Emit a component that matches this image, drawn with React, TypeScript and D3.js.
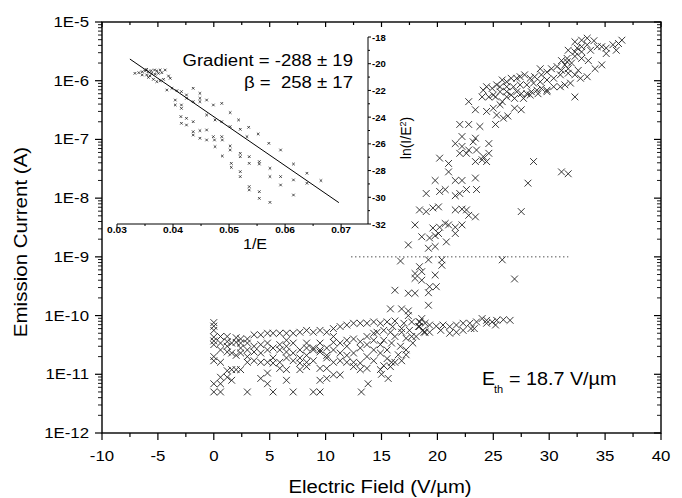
import React from 'react';
import * as d3 from 'd3';

const FONT = 'Arial, "Liberation Sans", Helvetica, sans-serif';

// axis ticks and labels
const xTickValues = [-10, -5, 0, 5, 10, 15, 20, 25, 30, 35, 40];
const yDecades = [1e-12, 1e-11, 1e-10, 1e-9, 1e-8, 1e-7, 1e-6, 1e-5];
const yTickLabels = ['1E-12', '1E-11', '1E-10', '1E-9', '1E-8', '1E-7', '1E-6', '1E-5'];
const insetXTicks = [0.03, 0.04, 0.05, 0.06, 0.07];
const insetXTickLabels = ['0.03', '0.04', '0.05', '0.06', '0.07'];
const insetYTicks = [-18, -20, -22, -24, -26, -28, -30, -32];

// threshold marker (dotted line at 1 nA)
const thresholdStart = 12.3;
const thresholdEnd = 31.7;
const thresholdCurrent = 1e-9;

// [field V/um, current A] -- low field noise floor
const lowField: [number, number][] = [
  [0, 7.6e-11], [0, 6.6e-11], [0, 5.6e-11], [0, 4.3e-11], [0, 3.7e-11], [0, 3.2e-11], [0, 2.0e-11], [0, 1.7e-11], [0, 6.9e-12], [0, 5.0e-12],
  [0.6, 4.4e-11], [0.6, 3.4e-11], [0.6, 2.6e-11], [0.6, 1.6e-11], [0.6, 8.9e-12], [0.6, 6.9e-12], [0.6, 5.0e-12],
  [1.2, 4.4e-11], [1.2, 3.6e-11], [1.2, 3.0e-11], [1.2, 2.4e-11], [1.2, 1.15e-11], [1.2, 8.9e-12],
  [1.6, 3.4e-11], [1.6, 2.3e-11], [1.6, 1.2e-11], [1.6, 7.9e-12],
  [2.0, 4.2e-11], [2.0, 3.5e-11], [2.0, 2.1e-11], [2.0, 1.2e-11],
  [2.4, 4.0e-11], [2.4, 3.4e-11], [2.4, 2.8e-11], [2.4, 2.3e-11], [2.4, 1.2e-11],
  [3.0, 4.0e-11], [3.0, 3.4e-11], [3.0, 2.6e-11], [3.0, 2.0e-11], [3.0, 1.6e-11], [3.0, 5.0e-12],
  [3.6, 4.7e-11], [3.6, 3.0e-11], [3.6, 2.4e-11], [3.6, 1.7e-11],
  [4.2, 4.7e-11], [4.2, 3.2e-11], [4.2, 2.3e-11], [4.2, 1.6e-11], [4.2, 8.5e-12],
  [4.8, 5.0e-11], [4.8, 3.4e-11], [4.8, 2.6e-11], [4.8, 1.6e-11], [4.8, 1.05e-11], [4.8, 6.9e-12],
  [5.3, 5.0e-11], [5.3, 2.8e-11], [5.3, 1.9e-11], [5.3, 1.55e-11], [5.3, 5.0e-12],
  [5.9, 5.0e-11], [5.9, 3.2e-11], [5.9, 2.6e-11], [5.9, 1.6e-11], [5.9, 1.26e-11],
  [6.5, 5.0e-11], [6.5, 3.8e-11], [6.5, 3.0e-11], [6.5, 2.4e-11], [6.5, 1.9e-11], [6.5, 1.2e-11], [6.5, 7.9e-12],
  [7.1, 5.0e-11], [7.1, 3.4e-11], [7.1, 2.3e-11], [7.1, 1.7e-11], [7.1, 5.0e-12],
  [7.7, 5.2e-11], [7.7, 2.6e-11], [7.7, 1.9e-11], [7.7, 1.55e-11], [7.7, 1.2e-11],
  [8.3, 5.6e-11], [8.3, 3.4e-11], [8.3, 2.8e-11], [8.3, 2.1e-11], [8.3, 1.6e-11], [8.3, 1.35e-11],
  [8.9, 5.2e-11], [8.9, 2.8e-11], [8.9, 2.6e-11], [8.9, 1.7e-11], [8.9, 5.0e-12],
  [9.5, 5.6e-11], [9.5, 3.4e-11], [9.5, 2.6e-11], [9.5, 2.4e-11], [9.5, 1.26e-11], [9.5, 7.9e-12], [9.5, 5.0e-12],
  [10.1, 5.2e-11], [10.1, 2.8e-11], [10.1, 2.1e-11], [10.1, 1.9e-11], [10.1, 1.26e-11], [10.1, 8.5e-12],
  [10.7, 6.0e-11], [10.7, 4.4e-11], [10.7, 3.5e-11], [10.7, 2.6e-11], [10.7, 1.6e-11], [10.7, 9.8e-12],
  [11.3, 6.5e-11], [11.3, 3.4e-11], [11.3, 2.3e-11], [11.3, 1.7e-11], [11.3, 9.8e-12],
  [11.9, 6.9e-11], [11.9, 3.8e-11], [11.9, 3.0e-11], [11.9, 2.1e-11], [11.9, 1.6e-11],
];

// upper flat band that continues to ~26 V/um
const flatBand: [number, number][] = [
  [12.5, 7.4e-11], [13.1, 7.4e-11], [13.7, 7.4e-11], [14.3, 7.8e-11], [14.9, 7.4e-11], [15.5, 7.8e-11],
  [16.2, 8.1e-11], [17.0, 7.4e-11], [17.7, 7.8e-11], [18.4, 7.8e-11], [18.9, 7.4e-11], [19.3, 6.9e-11],
  [19.9, 6.6e-11], [20.5, 6.9e-11], [21.1, 6.5e-11], [21.7, 6.9e-11], [22.3, 7.4e-11], [22.9, 7.4e-11],
  [23.5, 7.8e-11], [24.0, 8.9e-11], [24.4, 8.3e-11], [24.9, 7.8e-11], [25.3, 8.3e-11], [25.9, 8.5e-11], [26.5, 8.3e-11],
  [14.3, 5.0e-11], [15.2, 5.6e-11], [16.0, 6.5e-11], [16.8, 6.0e-11], [17.5, 5.6e-11], [18.3, 6.5e-11],
  [18.8, 5.2e-11], [19.3, 5.2e-11], [20.3, 5.6e-11], [21.1, 5.0e-11], [21.7, 5.2e-11], [22.3, 5.6e-11],
  [23.0, 6.0e-11], [23.3, 6.0e-11], [24.4, 7.4e-11], [25.2, 6.9e-11],
];

// mid field scatter before turn-on
const midField: [number, number][] = [
  [12.5, 4.0e-11], [13.1, 3.6e-11], [13.7, 4.4e-11], [14.3, 3.8e-11], [14.9, 3.2e-11],
  [12.5, 2.3e-11], [13.1, 2.8e-11], [13.7, 3.2e-11], [14.3, 2.6e-11], [12.5, 1.6e-11], [13.1, 1.55e-11],
  [13.7, 2.0e-11], [12.5, 1.35e-11], [13.1, 1.2e-11], [13.7, 1.26e-11], [14.3, 1.7e-11], [14.9, 2.3e-11],
  [15.5, 2.6e-11], [15.9, 3.4e-11], [16.2, 4.4e-11], [15.2, 3.8e-11], [14.6, 5.2e-11], [15.8, 5.2e-11],
  [16.8, 5.2e-11], [17.2, 4.1e-11], [16.7, 3.0e-11], [17.2, 2.6e-11], [17.8, 3.4e-11], [17.7, 4.4e-11],
  [15.5, 1.85e-11], [15.9, 1.6e-11], [16.5, 2.15e-11], [16.8, 1.7e-11], [17.2, 2.15e-11], [15.2, 1.4e-11],
  [15.8, 1.35e-11], [16.2, 1.6e-11], [14.9, 1.2e-11], [15.0, 1.0e-11], [15.6, 8.5e-12], [13.8, 6.9e-12],
  [13.2, 5.0e-12], [18.4, 6.5e-11], [18.9, 5.2e-11], [18.1, 4.4e-11], [18.7, 5.6e-11],
];

// turn-on branch
const riseBranch: [number, number][] = [
  [20.2, 4.8e-8], [21.0, 3.9e-8], [21.0, 2.8e-8], [19.8, 2.0e-8], [21.6, 2.0e-8], [22.2, 2.0e-8], [23.4, 2.2e-8],
  [19.0, 1.2e-8], [20.2, 1.3e-8], [20.7, 1.4e-8], [21.6, 1.1e-8], [22.0, 1.2e-8], [22.6, 1.4e-8], [23.5, 1.4e-8],
  [18.4, 6.3e-9], [19.0, 5.9e-9], [19.6, 6.8e-9], [20.1, 7.1e-9], [21.6, 6.3e-9], [22.2, 6.5e-9], [22.6, 6.3e-9],
  [22.8, 5.1e-9], [23.4, 4.8e-9], [18.0, 3.5e-9], [19.6, 3.1e-9], [20.2, 3.2e-9], [20.7, 3.7e-9], [21.0, 3.5e-9],
  [21.6, 3.2e-9], [22.2, 3.5e-9], [21.6, 2.5e-9], [18.6, 2.2e-9], [19.3, 2.1e-9], [19.8, 2.3e-9], [20.1, 2.5e-9],
  [20.8, 1.8e-9], [17.4, 1.6e-9], [19.2, 1.4e-9], [19.8, 1.5e-9], [16.7, 8.5e-10], [19.2, 8.9e-10], [20.4, 8.9e-10],
  [20.4, 7.2e-10], [18.4, 6.8e-10], [18.6, 5.6e-10], [18.0, 5.2e-10], [18.0, 4.3e-10], [18.6, 4.0e-10], [19.8, 4.9e-10],
  [19.9, 3.1e-10], [16.2, 2.7e-10], [17.4, 2.4e-10], [18.0, 2.4e-10], [19.2, 2.45e-10], [19.3, 3.1e-10],
  [15.8, 1.3e-10], [16.8, 1.3e-10], [19.2, 1.5e-10], [17.4, 1.2e-10], [17.4, 1.0e-10], [18.4, 7.8e-11], [18.6, 8.9e-11],
];

// high field saturation band
const highBand: [number, number][] = [
  [32.3, 4.6e-6], [32.9, 4.9e-6], [33.4, 5.3e-6], [34.0, 4.8e-6], [33.4, 4.1e-6], [32.9, 3.8e-6], [32.5, 3.6e-6],
  [31.7, 3.3e-6], [32.3, 3.1e-6], [32.9, 3.1e-6], [33.7, 3.3e-6], [34.3, 3.8e-6], [34.7, 3.8e-6], [35.1, 3.6e-6],
  [35.7, 4.1e-6], [36.2, 4.3e-6], [36.5, 4.9e-6], [36.0, 3.3e-6], [35.1, 2.9e-6], [34.7, 1.86e-6], [34.1, 1.6e-6],
  [33.5, 2.2e-6], [32.9, 2.4e-6], [32.3, 2.6e-6], [31.6, 2.4e-6], [31.1, 2.2e-6], [31.4, 1.86e-6], [30.7, 1.74e-6],
  [30.2, 1.6e-6], [29.8, 1.4e-6], [29.3, 1.26e-6], [29.2, 1.6e-6], [28.7, 1.17e-6], [28.3, 1.1e-6], [27.8, 1.26e-6],
  [27.4, 1.17e-6], [27.1, 1.1e-6], [26.6, 1.1e-6], [26.2, 9.6e-7], [25.8, 1.03e-6], [25.3, 8.5e-7], [24.9, 7.4e-7],
  [24.4, 7.9e-7], [24.1, 6.9e-7], [24.6, 5.3e-7], [25.0, 5.7e-7], [25.6, 6.5e-7], [26.2, 6.5e-7], [26.6, 5.7e-7],
  [27.1, 6.5e-7], [27.5, 6.0e-7], [28.0, 6.0e-7], [28.4, 6.5e-7], [28.9, 6.9e-7], [29.3, 7.4e-7], [29.8, 6.9e-7],
  [30.4, 7.9e-7], [31.0, 7.9e-7], [31.4, 8.5e-7], [31.9, 9.1e-7], [32.3, 1.26e-6], [31.7, 1.34e-6], [31.0, 1.26e-6],
  [30.4, 1.1e-6], [29.8, 1.03e-6], [29.2, 9.6e-7], [28.6, 9.1e-7], [28.0, 8.5e-7], [27.4, 8.5e-7], [26.8, 7.9e-7],
  [26.2, 7.9e-7], [25.6, 7.9e-7], [25.2, 5.3e-7], [26.2, 5.3e-7], [26.9, 5.0e-7], [27.7, 5.0e-7], [28.3, 5.7e-7],
  [29.0, 6.0e-7], [29.8, 6.5e-7], [32.6, 1.5e-6], [33.4, 1.17e-6], [32.8, 1.1e-6], [32.3, 5.3e-7], [31.7, 1.6e-6],
  [31.1, 1.5e-6], [32.0, 2.0e-6], [31.6, 2.1e-6],
  [22.8, 4.4e-7], [24.0, 5.3e-7], [23.4, 3.2e-7], [24.4, 3.0e-7], [25.0, 3.4e-7], [25.6, 3.9e-7], [25.8, 4.4e-7],
  [25.3, 2.6e-7], [25.9, 2.3e-7], [26.3, 2.5e-7], [26.9, 3.4e-7], [27.5, 3.2e-7], [22.0, 1.8e-7], [22.8, 1.8e-7],
  [23.8, 1.66e-7], [25.2, 1.8e-7], [22.2, 1.12e-7], [23.4, 1.05e-7], [23.2, 9.1e-8], [24.6, 8.5e-8], [21.6, 8.5e-8],
  [22.2, 7.6e-8], [22.8, 6.6e-8], [23.5, 6.6e-8], [22.0, 5.8e-8], [22.6, 5.8e-8], [24.6, 5.8e-8], [24.1, 5.1e-8],
  [23.4, 4.2e-8], [24.0, 4.5e-8], [24.4, 4.2e-8], [28.6, 4.2e-8],
];

// isolated points
const strays: [number, number][] = [
  [28.1, 1.8e-8], [27.5, 5.9e-9], [31.1, 2.8e-8], [31.7, 2.6e-8], [25.8, 8.9e-10], [26.9, 4.2e-10],
];

// inset: [1/E, ln(I/E^2)]
const insetPoints: [number, number][] = [
  [0.0332, -20.72], [0.0339, -20.67], [0.0345, -20.60], [0.0350, -20.52], [0.0353, -20.42], [0.0356, -20.60],
  [0.0361, -20.52], [0.0367, -20.47], [0.0371, -20.54], [0.0377, -20.47], [0.0386, -20.47], [0.0345, -20.84],
  [0.0353, -20.84], [0.0359, -20.92], [0.0362, -20.72], [0.0368, -20.79], [0.0374, -20.72], [0.0380, -20.67],
  [0.0356, -21.02], [0.0365, -21.17], [0.0371, -21.34], [0.0377, -21.27], [0.0383, -21.17], [0.0392, -20.92], [0.0395, -21.09],
  [0.0389, -21.97], [0.0398, -21.84], [0.0407, -22.02], [0.0415, -22.09], [0.0424, -22.34], [0.0436, -21.84],
  [0.0448, -22.22], [0.0448, -22.59], [0.0460, -22.72], [0.0472, -23.09], [0.0487, -22.97], [0.0502, -23.66],
  [0.0517, -24.21], [0.0535, -24.76], [0.0552, -25.26], [0.0571, -25.96], [0.0592, -26.46], [0.0615, -27.51],
  [0.0639, -28.20], [0.0664, -28.75],
  [0.0404, -22.72], [0.0404, -23.09], [0.0415, -23.09], [0.0415, -23.34], [0.0424, -22.59], [0.0436, -22.84],
  [0.0448, -22.84], [0.0460, -23.84], [0.0475, -24.21], [0.0487, -24.34], [0.0502, -24.71], [0.0520, -24.91], [0.0532, -25.46],
  [0.0414, -23.96], [0.0415, -24.46], [0.0424, -24.09], [0.0424, -24.59], [0.0436, -24.34], [0.0436, -25.09],
  [0.0436, -25.34], [0.0448, -25.01], [0.0448, -25.58], [0.0460, -24.96], [0.0460, -25.71], [0.0472, -25.46],
  [0.0474, -25.71], [0.0475, -26.21], [0.0487, -25.46], [0.0488, -25.71], [0.0488, -26.91], [0.0502, -26.16],
  [0.0502, -26.46], [0.0504, -27.46], [0.0504, -27.76], [0.0520, -26.71], [0.0520, -26.96], [0.0520, -28.08],
  [0.0520, -28.45], [0.0536, -26.96], [0.0536, -27.46], [0.0554, -27.33], [0.0554, -27.51], [0.0573, -27.83],
  [0.0573, -28.45], [0.0592, -28.45], [0.0592, -29.08], [0.0615, -28.70], [0.0615, -29.83], [0.0639, -28.95],
  [0.0536, -29.20], [0.0536, -29.45], [0.0554, -29.58], [0.0554, -30.08], [0.0573, -30.38],
];

// linear fit endpoints in the inset
const fitX = [0.0323, 0.0696];
const fitY = [-19.65, -30.4];

const cross = (cx: number, cy: number, s: number) =>
  `M${cx - s},${cy - s}L${cx + s},${cy + s}M${cx - s},${cy + s}L${cx + s},${cy - s}`;

const Txt = ({ x, y, size, anchor = 'start', sx = 1, weight = 'normal', rotate = 0, children }: any) => (
  <text
    transform={`translate(${x},${y}) rotate(${rotate}) scale(${sx},1)`}
    fontSize={size}
    fontFamily={FONT}
    fontWeight={weight}
    textAnchor={anchor}
    fill="#000"
  >
    {children}
  </text>
);

export default function App() {
  const x = d3.scaleLinear().domain([-10, 40]).range([102, 661]);
  const y = d3.scaleLog().domain([1e-12, 1e-5]).range([433, 22]);
  const ix = d3.scaleLinear().domain([0.03, 0.0748]).range([117, 368]);
  const iy = d3.scaleLinear().domain([-32, -18]).range([224, 37]);

  const [x0, x1] = x.range();
  const [yb, yt] = y.range();

  const xMinor = d3.range(-7.5, 40, 5);
  const yMinor: number[] = [];
  yDecades.slice(0, -1).forEach((d) => {
    for (let k = 2; k <= 9; k++) yMinor.push(d * k);
  });

  const allMain = [...lowField, ...flatBand, ...midField, ...riseBranch, ...highBand, ...strays];
  const mainPath = allMain.map(([e, i]) => cross(x(e), y(i), 3.4)).join('');
  const insetPath = insetPoints.map(([a, b]) => cross(ix(a), iy(b), 1.3)).join('');

  const ixMinor = [0.035, 0.045, 0.055, 0.065];
  const iyMinor = d3.range(-19, -31.5, -2);

  return (
    <svg width={682} height={498} style={{ position: 'absolute', left: 0, top: 0, background: '#fff' }}>
      <rect width={682} height={498} fill="#fff" />

      {/* main ticks */}
      <g stroke="#000" strokeWidth={1.2}>
        {xTickValues.map((v) => (
          <g key={'xt' + v}>
            <line x1={x(v)} x2={x(v)} y1={yb} y2={yb + 7} />
            <line x1={x(v)} x2={x(v)} y1={yt} y2={yt + 5} />
          </g>
        ))}
        {xMinor.map((v) => (
          <g key={'xm' + v}>
            <line x1={x(v)} x2={x(v)} y1={yb} y2={yb + 4} />
            <line x1={x(v)} x2={x(v)} y1={yt} y2={yt + 3} />
          </g>
        ))}
        {yDecades.map((v) => (
          <g key={'yt' + v}>
            <line x1={x0 - 7} x2={x0} y1={y(v)} y2={y(v)} />
            <line x1={x1 - 7} x2={x1} y1={y(v)} y2={y(v)} />
          </g>
        ))}
      </g>
      <g stroke="#000" strokeWidth={0.9}>
        {yMinor.map((v, i) => (
          <g key={'ym' + i}>
            <line x1={x0 - 4} x2={x0} y1={y(v)} y2={y(v)} />
            <line x1={x1 - 4} x2={x1} y1={y(v)} y2={y(v)} />
          </g>
        ))}
      </g>
      <rect x={x0} y={yt} width={x1 - x0} height={yb - yt} fill="none" stroke="#000" strokeWidth={1.4} />

      {/* tick labels */}
      {xTickValues.map((v) => (
        <Txt key={'xl' + v} x={x(v)} y={461} size={14} anchor="middle" sx={1.2}>
          {String(v)}
        </Txt>
      ))}
      {yDecades.map((v, i) => (
        <Txt key={'yl' + v} x={89} y={y(v) + 5} size={14} anchor="end" sx={1.2}>
          {yTickLabels[i]}
        </Txt>
      ))}

      {/* axis titles */}
      <Txt x={380} y={493} size={19} anchor="middle" sx={1.07}>
        Electric Field (V/µm)
      </Txt>
      <Txt x={27} y={242} size={19} anchor="middle" sx={1.08} rotate={-90}>
        Emission Current (A)
      </Txt>

      {/* threshold dotted line */}
      <line
        x1={x(thresholdStart)}
        x2={x(thresholdEnd)}
        y1={y(thresholdCurrent)}
        y2={y(thresholdCurrent)}
        stroke="#000"
        strokeWidth={1}
        strokeDasharray="1,3"
      />

      {/* main scatter */}
      <path d={mainPath} fill="none" stroke="#222" strokeWidth={0.9} />

      {/* threshold annotation */}
      <Txt x={482} y={385} size={19} sx={1.03}>E</Txt>
      <Txt x={494} y={393} size={11}>th</Txt>
      <Txt x={509} y={385} size={19} sx={1.04}>= 18.7 V/µm</Txt>

      {/* inset */}
      <g stroke="#000" strokeWidth={1}>
        <line x1={ix.range()[0]} x2={ix.range()[1]} y1={iy(-32)} y2={iy(-32)} />
        <line x1={ix.range()[1]} x2={ix.range()[1]} y1={iy(-18)} y2={iy(-32)} />
        {insetXTicks.map((v) => (
          <line key={'ixt' + v} x1={ix(v)} x2={ix(v)} y1={iy(-32)} y2={iy(-32) + 4} />
        ))}
        {ixMinor.map((v) => (
          <line key={'ixm' + v} x1={ix(v)} x2={ix(v)} y1={iy(-32)} y2={iy(-32) + 2} />
        ))}
        {insetYTicks.map((v) => (
          <line key={'iyt' + v} x1={ix.range()[1]} x2={ix.range()[1] + 3} y1={iy(v)} y2={iy(v)} />
        ))}
        {iyMinor.map((v) => (
          <line key={'iym' + v} x1={ix.range()[1]} x2={ix.range()[1] + 2} y1={iy(v)} y2={iy(v)} />
        ))}
      </g>
      {insetXTicks.map((v, i) => (
        <Txt key={'ixl' + v} x={ix(v)} y={233} size={8.5} anchor="middle" weight="bold" sx={1.2}>
          {insetXTickLabels[i]}
        </Txt>
      ))}
      {insetYTicks.map((v) => (
        <Txt key={'iyl' + v} x={372} y={iy(v) + 3.5} size={9.5} weight="bold">
          {String(v)}
        </Txt>
      ))}
      <Txt x={255} y={249} size={14} anchor="middle" sx={1.15}>1/E</Txt>
      <text
        transform="translate(411,138) rotate(-90)"
        fontSize={14}
        fontFamily={FONT}
        textAnchor="middle"
      >
        ln(I/E<tspan dy={-5} fontSize={9}>2</tspan>
        <tspan dy={5}>)</tspan>
      </text>

      <path d={insetPath} fill="none" stroke="#222" strokeWidth={0.8} />
      <line x1={ix(fitX[0])} y1={iy(fitY[0])} x2={ix(fitX[1])} y2={iy(fitY[1])} stroke="#000" strokeWidth={1} />

      <Txt x={353} y={66} size={16} anchor="end" sx={1.16}>Gradient = -288 ± 19</Txt>
      <Txt x={353} y={88} size={16} anchor="end" sx={1.16}>{'β =\u00a0 258 ± 17'}</Txt>
    </svg>
  );
}
